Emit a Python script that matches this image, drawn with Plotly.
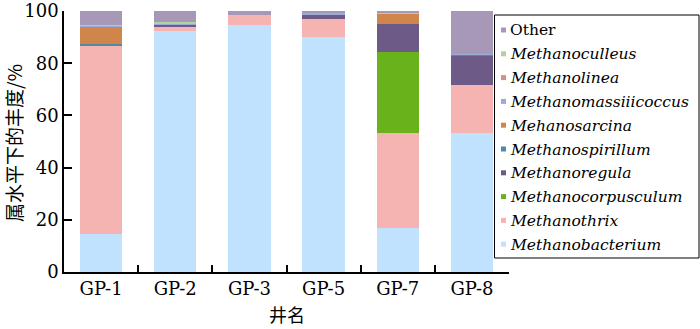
import plotly.graph_objects as go

categories = ["GP-1", "GP-2", "GP-3", "GP-5", "GP-7", "GP-8"]

Methanobacterium = [14.4, 92.4, 94.5, 90.2, 16.9, 53.1]
Methanothrix = [72.4, 1.3, 4.1, 6.8, 36.2, 18.5]
Methanocorpusculum = [0, 0, 0, 0, 31.2, 0]
Methanoregula = [0, 1.2, 0, 1.4, 10.8, 11.0]
Methanospirillum = [0.6, 0, 0, 0, 0, 0.8]
Mehanosarcina = [6.5, 0, 0, 0, 3.9, 0]
Methanomassiiicoccus = [0.5, 0.3, 0, 1.0, 0, 0.4]
Methanolinea = [0, 0, 0, 0, 0, 0.2]
Methanoculleus = [0.3, 0.5, 0, 0, 0.3, 0]
Other = [5.3, 4.3, 1.4, 0.6, 0.7, 16.0]

y_ticks = [0, 20, 40, 60, 80, 100]
x_title = "井名"
y_title = "属水平下的丰度/%"

series = [
    ("Methanobacterium", Methanobacterium, "#c0e2fe", True),
    ("Methanothrix", Methanothrix, "#f5b4b1", True),
    ("Methanocorpusculum", Methanocorpusculum, "#6ab21c", True),
    ("Methanoregula", Methanoregula, "#6e5a86", True),
    ("Methanospirillum", Methanospirillum, "#5289a8", True),
    ("Mehanosarcina", Mehanosarcina, "#d0864a", True),
    ("Methanomassiiicoccus", Methanomassiiicoccus, "#98acd6", True),
    ("Methanolinea", Methanolinea, "#cf9090", True),
    ("Methanoculleus", Methanoculleus, "#b4d09c", True),
    ("Other", Other, "#a798b8", False),
]

SERIF = "DejaVu Serif"
CJK = "Noto Sans CJK SC"

fig = go.Figure()
for name, vals, color, ital in series:
    fig.add_trace(go.Bar(
        x=categories, y=vals, name=name,
        marker=dict(color=color, line=dict(width=0)),
        showlegend=False,
    ))

W, H = 700, 329
ML, MR, MT, MB = 64, 191, 11, 57
PW = W - ML - MR
PH = H - MT - MB


def px_x(p):
    return (p - ML) / PW


def px_y(p):
    return (H - MB - p) / PH


shapes = []
annotations = []
shapes.append(dict(type="rect", xref="paper", yref="paper",
                   x0=px_x(494.5), x1=px_x(699), y0=px_y(258), y1=px_y(15),
                   line=dict(color="black", width=1), fillcolor="white", layer="above"))
legend_items = list(reversed(series))
for i, (name, vals, color, ital) in enumerate(legend_items):
    yc = 30 + i * 23.8
    shapes.append(dict(type="rect", xref="paper", yref="paper",
                       x0=px_x(501), x1=px_x(506), y0=px_y(yc + 2.5), y1=px_y(yc - 2.5),
                       line=dict(width=0), fillcolor=color, layer="above"))
    annotations.append(dict(xref="paper", yref="paper", x=px_x(508), y=px_y(yc + 0.5),
                            xanchor="left", yanchor="middle", showarrow=False,
                            text=("<i>%s</i>" % name) if ital else name,
                            font=dict(family=SERIF, size=15.5, color="black")))

# axis titles
annotations.append(dict(xref="paper", yref="paper", x=0.5, y=px_y(314),
                        xanchor="center", yanchor="middle", showarrow=False,
                        text=x_title, font=dict(family=CJK, size=18, color="black")))
annotations.append(dict(xref="paper", yref="paper", x=px_x(13), y=px_y(143),
                        xanchor="center", yanchor="middle", showarrow=False, textangle=-90,
                        text=y_title, font=dict(family=CJK, size=19, color="black")))

fig.update_layout(
    barmode="stack",
    bargap=0.43,
    width=W, height=H,
    margin=dict(l=ML, r=MR, t=MT, b=MB, pad=0, autoexpand=False),
    paper_bgcolor="white", plot_bgcolor="white",
    font=dict(family=SERIF, size=18, color="black"),
    showlegend=False,
    shapes=shapes,
    annotations=annotations,
    xaxis=dict(
        categoryorder="array", categoryarray=categories,
        showline=True, linecolor="black", linewidth=1.5,
        ticks="inside", tickson="boundaries", ticklen=7, tickwidth=1.5, tickcolor="black",
        tickfont=dict(family=SERIF, size=18, color="black"),
        automargin=False,
        showgrid=False, zeroline=False,
    ),
    yaxis=dict(
        range=[0, 100], tickvals=y_ticks, ticktext=[str(v) for v in y_ticks],
        showline=True, linecolor="black", linewidth=1.5,
        ticks="inside", ticklen=8, tickwidth=1.5, tickcolor="black",
        tickfont=dict(family=SERIF, size=18, color="black"),
        automargin=False,
        showgrid=False, zeroline=False,
    ),
)

fig.write_html("out.html")
